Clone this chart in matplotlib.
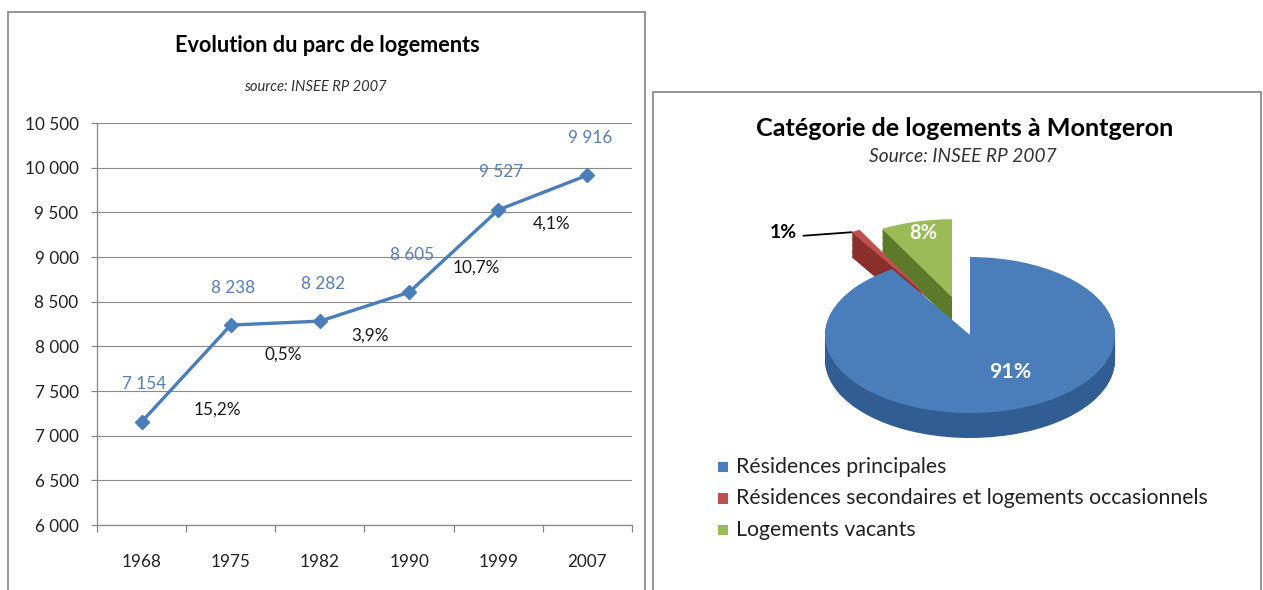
import matplotlib
matplotlib.use("Agg")
import matplotlib.pyplot as plt
from matplotlib.patches import Rectangle
import numpy as np

# ---------------- data ----------------
years = ["1968", "1975", "1982", "1990", "1999", "2007"]
logements = [7154, 8238, 8282, 8605, 9527, 9916]
y_ticks = [6000, 6500, 7000, 7500, 8000, 8500, 9000, 9500, 10000, 10500]

pie_labels = ["Résidences principales",
              "Résidences secondaires et logements occasionnels",
              "Logements vacants"]
pie_values = [91, 1, 8]
pie_explode = [0.0, 0.55, 0.5]

title_left = "Evolution du parc de logements"
sub_left = "source: INSEE RP 2007"
title_right = "Catégorie de logements à Montgeron"
sub_right = "Source: INSEE RP 2007"

# ---------------- style ----------------
W, H = 1263, 590
FONT = ["Lato", "DejaVu Sans"]
plt.rcParams["font.family"] = FONT
BLUE = "#4a7ebb"
LABEL_BLUE = "#5b7db5"
GRID = "#8a8a8a"
AXIS = "#868686"
TOP = ["#4a7ebb", "#c0504d", "#9bbb59"]
SIDE = ["#325d92", "#8a2f2c", "#5d7a2b"]

fig = plt.figure(figsize=(W / 100, H / 100), dpi=100)
fig.patch.set_facecolor("white")
renderer = fig.canvas.get_renderer()


def fx(x):
    return x / W


def fy(y):
    return 1 - y / H


def fit(text, px, **kw):
    t = fig.text(0, 0, text, fontsize=10, **kw)
    w = t.get_window_extent(renderer).width
    t.remove()
    return 10 * px / w


# panel frames
for (x0, y0, x1, y1) in [(8, 12, 645, 620), (653, 92, 1261, 620)]:
    fig.add_artist(Rectangle((fx(x0), fy(y1)), fx(x1) - fx(x0), fy(y0) - fy(y1),
                             transform=fig.transFigure, fill=False,
                             ec="#8c8c8c", lw=1.3, clip_on=False))

# ---------------- left: line chart ----------------
fs_num = fit("6 000", 44)
fig.text(fx(327), fy(45), title_left, ha="center", va="center",
         fontweight="bold", fontsize=fit(title_left, 305, fontweight="bold"))
fig.text(fx(315), fy(87), sub_left, ha="center", va="center", style="italic",
         color="#333333", fontsize=fit(sub_left, 143, style="italic"))

ax = fig.add_axes([fx(97), fy(525), fx(632) - fx(97), fy(123) - fy(525)])
x = np.arange(len(years))
ax.plot(x, logements, color=BLUE, lw=2.4, marker="D", ms=7.5,
        mfc=BLUE, mec=BLUE, zorder=3)
ax.set_xlim(-0.5, len(years) - 0.5)
ax.set_ylim(y_ticks[0], y_ticks[-1])
ax.set_yticks(y_ticks)
ax.set_yticklabels([f"{v:,}".replace(",", " ") for v in y_ticks])
ax.set_xticks(x)
ax.set_xticklabels(years)
ax.set_xticks(np.arange(-0.5, len(years)), minor=True)
ax.tick_params(axis="x", which="major", length=0, pad=21, labelsize=fs_num,
               labelcolor="#222222")
ax.tick_params(axis="x", which="minor", length=5, color=AXIS, width=0.9)
ax.tick_params(axis="y", length=4.3, color=AXIS, width=0.9, pad=9,
               labelsize=fs_num, labelcolor="#222222")
ax.grid(axis="y", color=GRID, lw=0.8)
ax.set_axisbelow(True)
for s in ["top", "right"]:
    ax.spines[s].set_visible(False)
for s in ["left", "bottom"]:
    ax.spines[s].set_color(AXIS)
    ax.spines[s].set_linewidth(0.9)

# value labels
for xi, v in zip(x, logements):
    ax.annotate(f"{v:,}".replace(",", " "), (xi, v), xytext=(2, 27),
                textcoords="offset points", ha="center", va="center",
                color=LABEL_BLUE, fontsize=fs_num)

# growth rate labels (computed from the series)
pct_offsets_px = [(31, -36), (8, -32), (6, -29), (23, -17), (9, -31)]
for i in range(1, len(logements)):
    g = (logements[i] / logements[i - 1] - 1) * 100
    txt = f"{g:.1f}%".replace(".", ",")
    mx = (x[i - 1] + x[i]) / 2
    my = (logements[i - 1] + logements[i]) / 2
    dx, dy = pct_offsets_px[i - 1]
    ax.annotate(txt, (mx, my), xytext=(dx * 0.72, dy * 0.72),
                textcoords="offset points", ha="center", va="center",
                color="#1a1a1a", fontsize=fs_num)

# ---------------- right: 3D-looking pie ----------------
fig.text(fx(965), fy(128), title_right, ha="center", va="center",
         fontweight="bold", fontsize=fit(title_right, 420, fontweight="bold"))
fig.text(fx(963), fy(156), sub_right, ha="center", va="center", style="italic",
         color="#333333", fontsize=fit(sub_right, 187, style="italic"))

pax = fig.add_axes([fx(790), fy(450), fx(1150) - fx(790), fy(190) - fy(450)])
depth = 0.32
for d in np.linspace(depth, 0.0, 22)[:-1]:
    pax.pie(pie_values, explode=pie_explode, colors=SIDE, startangle=90,
            counterclock=False, center=(0, -d), wedgeprops=dict(lw=0))
wedges, _ = pax.pie(pie_values, explode=pie_explode, colors=TOP, startangle=90,
                    counterclock=False, center=(0, 0), wedgeprops=dict(lw=0))
pax.set_aspect("auto")
pax.set_xlim(-1.241, 1.241)
pax.set_ylim(-1.474, 1.859)
pax.axis("off")

# percent labels
pax.text(0.28, -0.47, f"{pie_values[0]}%", ha="center", va="center",
         color="white", fontweight="bold",
         fontsize=fit("91%", 42, fontweight="bold"))
pax.text(-0.32, 1.31, f"{pie_values[2]}%", ha="center", va="center",
         color="white", fontweight="bold",
         fontsize=fit("8%", 28, fontweight="bold"))
w = wedges[1]
tip = (w.center[0] + w.r * np.cos(np.radians(w.theta2)),
       w.center[1] + w.r * np.sin(np.radians(w.theta2)))
pax.annotate(f"{pie_values[1]}%", xy=tip, xytext=(-1.29, 1.31),
             ha="center", va="center", color="black", fontweight="bold",
             fontsize=fit("1%", 27, fontweight="bold"), annotation_clip=False,
             arrowprops=dict(arrowstyle="-", color="black", lw=1.3,
                             relpos=(1.0, 0.3), shrinkA=3, shrinkB=0))

# legend
fs_leg = fit(pie_labels[1], 472)
for i, (lab, col) in enumerate(zip(pie_labels, TOP)):
    yc = 467 + i * 31.5
    fig.add_artist(Rectangle((fx(718), fy(yc + 5)), fx(728) - fx(718), fy(yc - 5) - fy(yc + 5),
                             transform=fig.transFigure, fc=col, ec="none"))
    fig.text(fx(736), fy(yc), lab, ha="left", va="center", fontsize=fs_leg,
             color="#222222")

fig.savefig("out.png", dpi=100, facecolor="white")
